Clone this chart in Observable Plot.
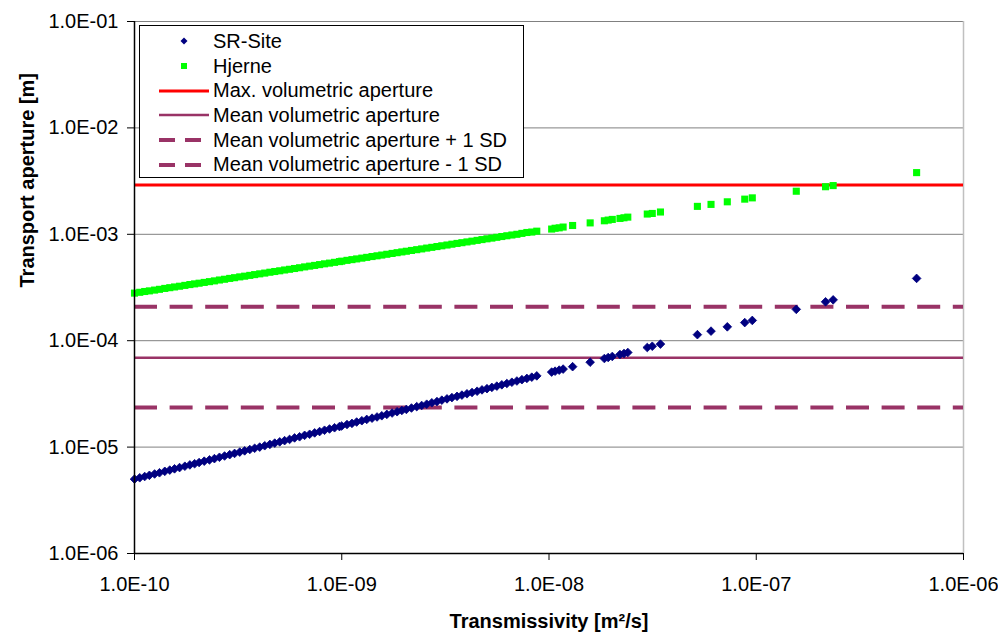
<!DOCTYPE html>
<html>
<head>
<meta charset="utf-8">
<script src="https://cdn.jsdelivr.net/npm/d3@7"></script>
<script src="https://cdn.jsdelivr.net/npm/@observablehq/plot@0.6"></script>
<style>
  body { margin: 0; background: #fff; }
  #wrap { position: relative; width: 998px; height: 635px; font-family: "Liberation Sans", Arial, sans-serif; }
  #legend { position: absolute; left: 139px; top: 25px; width: 385px; height: 153px; border: 1px solid #000; background: #fff; box-sizing: border-box; padding-top: 3px; }
  .row { display: flex; align-items: center; height: 24.7px; font-size: 20px; color: #000; }
  .row svg { margin-left: 19px; margin-right: 4px; }
</style>
</head>
<body>
<div id="wrap"></div>
<script>
// Transmissivity values [m2/s] (shared by both series)
const transmissivity = [
  1.00e-10, 1.06e-10, 1.12e-10, 1.18e-10, 1.25e-10, 1.32e-10, 1.40e-10, 1.48e-10, 1.56e-10, 1.65e-10,
  1.75e-10, 1.85e-10, 1.95e-10, 2.05e-10, 2.17e-10, 2.30e-10, 2.43e-10, 2.57e-10, 2.72e-10, 2.88e-10,
  3.04e-10, 3.22e-10, 3.40e-10, 3.60e-10, 3.80e-10, 4.02e-10, 4.25e-10, 4.50e-10, 4.75e-10, 5.02e-10,
  5.30e-10, 5.60e-10, 5.92e-10, 6.26e-10, 6.62e-10, 7.00e-10, 7.40e-10, 7.82e-10, 8.26e-10, 8.73e-10,
  9.23e-10, 9.75e-10,
  1.00e-9, 1.06e-9, 1.12e-9, 1.18e-9, 1.25e-9, 1.32e-9, 1.40e-9, 1.48e-9, 1.56e-9, 1.65e-9,
  1.75e-9, 1.85e-9, 1.95e-9, 2.05e-9, 2.17e-9, 2.30e-9, 2.43e-9, 2.57e-9, 2.72e-9, 2.88e-9,
  3.04e-9, 3.22e-9, 3.40e-9, 3.60e-9, 3.80e-9, 4.02e-9, 4.25e-9, 4.50e-9, 4.75e-9, 5.02e-9,
  5.30e-9, 5.60e-9, 5.92e-9, 6.26e-9, 6.62e-9, 7.00e-9, 7.40e-9, 7.82e-9, 8.26e-9, 8.73e-9,
  1.03e-8, 1.07e-8, 1.12e-8, 1.17e-8, 1.30e-8, 1.58e-8, 1.85e-8, 1.93e-8, 2.02e-8, 2.20e-8,
  2.30e-8, 2.40e-8, 2.98e-8, 3.15e-8, 3.45e-8, 5.20e-8, 6.05e-8, 7.25e-8, 8.80e-8, 9.57e-8,
  1.56e-7, 2.16e-7, 2.35e-7, 5.94e-7
];

// Transport aperture [m], SR-Site
const srSite = [
  5.00e-6, 5.15e-6, 5.29e-6, 5.43e-6, 5.59e-6, 5.74e-6, 5.92e-6, 6.08e-6, 6.25e-6, 6.42e-6,
  6.61e-6, 6.80e-6, 6.98e-6, 7.16e-6, 7.37e-6, 7.58e-6, 7.79e-6, 8.02e-6, 8.25e-6, 8.49e-6,
  8.72e-6, 8.97e-6, 9.22e-6, 9.49e-6, 9.75e-6, 1.00e-5, 1.03e-5, 1.06e-5, 1.09e-5, 1.12e-5,
  1.15e-5, 1.18e-5, 1.22e-5, 1.25e-5, 1.29e-5, 1.32e-5, 1.36e-5, 1.40e-5, 1.44e-5, 1.48e-5,
  1.52e-5, 1.56e-5,
  1.58e-5, 1.63e-5, 1.67e-5, 1.72e-5, 1.77e-5, 1.82e-5, 1.87e-5, 1.92e-5, 1.97e-5, 2.03e-5,
  2.09e-5, 2.15e-5, 2.21e-5, 2.26e-5, 2.33e-5, 2.40e-5, 2.46e-5, 2.53e-5, 2.61e-5, 2.68e-5,
  2.76e-5, 2.84e-5, 2.92e-5, 3.00e-5, 3.08e-5, 3.17e-5, 3.26e-5, 3.35e-5, 3.45e-5, 3.54e-5,
  3.64e-5, 3.74e-5, 3.85e-5, 3.96e-5, 4.07e-5, 4.18e-5, 4.30e-5, 4.42e-5, 4.54e-5, 4.67e-5,
  5.07e-5, 5.17e-5, 5.29e-5, 5.41e-5, 5.70e-5, 6.28e-5, 6.80e-5, 6.95e-5, 7.11e-5, 7.42e-5,
  7.58e-5, 7.75e-5, 8.63e-5, 8.87e-5, 9.29e-5, 1.14e-4, 1.23e-4, 1.35e-4, 1.48e-4, 1.55e-4,
  1.97e-4, 2.32e-4, 2.42e-4, 3.85e-4
];

// Transport aperture [m], Hjerne
const hjerne = [
  2.80e-4, 2.85e-4, 2.90e-4, 2.94e-4, 2.99e-4, 3.04e-4, 3.10e-4, 3.15e-4, 3.20e-4, 3.25e-4,
  3.31e-4, 3.37e-4, 3.42e-4, 3.47e-4, 3.53e-4, 3.59e-4, 3.65e-4, 3.72e-4, 3.78e-4, 3.85e-4,
  3.91e-4, 3.98e-4, 4.04e-4, 4.11e-4, 4.18e-4, 4.25e-4, 4.32e-4, 4.40e-4, 4.47e-4, 4.54e-4,
  4.62e-4, 4.69e-4, 4.77e-4, 4.85e-4, 4.94e-4, 5.02e-4, 5.10e-4, 5.19e-4, 5.28e-4, 5.36e-4,
  5.45e-4, 5.54e-4,
  5.59e-4, 5.69e-4, 5.78e-4, 5.87e-4, 5.97e-4, 6.07e-4, 6.18e-4, 6.28e-4, 6.38e-4, 6.49e-4,
  6.61e-4, 6.72e-4, 6.83e-4, 6.93e-4, 7.05e-4, 7.17e-4, 7.29e-4, 7.42e-4, 7.54e-4, 7.67e-4,
  7.80e-4, 7.93e-4, 8.07e-4, 8.21e-4, 8.34e-4, 8.48e-4, 8.62e-4, 8.77e-4, 8.92e-4, 9.07e-4,
  9.21e-4, 9.37e-4, 9.53e-4, 9.69e-4, 9.85e-4, 1.00e-3, 1.02e-3, 1.04e-3, 1.05e-3, 1.07e-3,
  1.12e-3, 1.14e-3, 1.15e-3, 1.17e-3, 1.21e-3, 1.28e-3, 1.34e-3, 1.36e-3, 1.38e-3, 1.41e-3,
  1.43e-3, 1.45e-3, 1.55e-3, 1.57e-3, 1.62e-3, 1.83e-3, 1.91e-3, 2.02e-3, 2.14e-3, 2.20e-3,
  2.54e-3, 2.80e-3, 2.87e-3, 3.80e-3
];

// Reference apertures [m]
const maxVolumetricAperture = 2.9e-3;
const meanVolumetricAperture = 6.9e-5;
const meanPlus1SD = 2.08e-4;
const meanMinus1SD = 2.35e-5;

const xTicks = [1e-10, 1e-9, 1e-8, 1e-7, 1e-6];
const xTickLabels = ["1.0E-10", "1.0E-09", "1.0E-08", "1.0E-07", "1.0E-06"];
const yTicks = [1e-6, 1e-5, 1e-4, 1e-3, 1e-2, 1e-1];
const yTickLabels = ["1.0E-06", "1.0E-05", "1.0E-04", "1.0E-03", "1.0E-02", "1.0E-01"];

const seriesNames = ["SR-Site", "Hjerne"];
const lineNames = ["Max. volumetric aperture", "Mean volumetric aperture",
  "Mean volumetric aperture + 1 SD", "Mean volumetric aperture - 1 SD"];

const srData = transmissivity.map((t, i) => ({t, a: srSite[i]}));
const hjData = transmissivity.map((t, i) => ({t, a: hjerne[i]}));

const xLabelOf = d => xTickLabels[xTicks.findIndex(v => Math.abs(Math.log10(v) - Math.log10(d)) < 1e-6)];
const yLabelOf = d => yTickLabels[yTicks.findIndex(v => Math.abs(Math.log10(v) - Math.log10(d)) < 1e-6)];

const NAVY = "#000080", LIME = "#00ff00", RED = "#ff0000", PLUM = "#993366";
const DASH = "23,12.6";

const chart = Plot.plot({
  width: 998,
  height: 635,
  marginLeft: 134,
  marginRight: 35,
  marginTop: 21,
  marginBottom: 82,
  style: {fontFamily: "'Liberation Sans', Arial, sans-serif", fontSize: "20px", color: "#000", background: "#fff"},
  x: {type: "log", domain: [1e-10, 1e-6]},
  y: {type: "log", domain: [1e-6, 1e-1]},
  marks: [
    Plot.gridY(yTicks.slice(1), {stroke: "#808080", strokeOpacity: 1, strokeWidth: 1}),
    Plot.ruleX([1e-6], {stroke: "#c0c0c0", strokeWidth: 1.5}),
    Plot.ruleY([meanPlus1SD], {stroke: PLUM, strokeWidth: 4, strokeDasharray: DASH}),
    Plot.ruleY([meanMinus1SD], {stroke: PLUM, strokeWidth: 4, strokeDasharray: DASH}),
    Plot.ruleY([meanVolumetricAperture], {stroke: PLUM, strokeWidth: 2.5}),
    Plot.ruleY([maxVolumetricAperture], {stroke: RED, strokeWidth: 3}),
    Plot.dot(srData, {x: "t", y: "a", symbol: "diamond2", r: 3.9, fill: NAVY, stroke: NAVY, strokeWidth: 0.8}),
    Plot.dot(hjData, {x: "t", y: "a", symbol: "square", r: 4.0, fill: LIME, stroke: "none"}),
    Plot.ruleX([1e-10], {stroke: "#000", strokeWidth: 1.5}),
    Plot.ruleY([1e-6], {stroke: "#000", strokeWidth: 1.5}),
    Plot.axisX(xTicks, {tickFormat: xLabelOf, tickSize: 7, tickPadding: 16, fontSize: 20, stroke: "#000", fill: "#000", label: null}),
    Plot.axisY(yTicks, {tickFormat: yLabelOf, tickSize: 7, tickPadding: 9, fontSize: 20, stroke: "#000", fill: "#000", label: null}),
    Plot.text(["Transmissivity [m²/s]"], {frameAnchor: "bottom", dy: 74, fontWeight: "bold", fontSize: 20, fill: "#000"}),
    Plot.text(["Transport aperture [m]"], {frameAnchor: "left", dx: -107, rotate: -90, fontWeight: "bold", fontSize: 20, fill: "#000"})
  ]
});

const wrap = document.getElementById("wrap");
wrap.appendChild(chart);

// Legend overlay (inside the plot area, as in the reference)
const legend = document.createElement("div");
legend.id = "legend";
const items = [
  {name: seriesNames[0], kind: "diamond", color: NAVY},
  {name: seriesNames[1], kind: "square", color: LIME},
  {name: lineNames[0], kind: "line", color: RED, w: 3},
  {name: lineNames[1], kind: "line", color: PLUM, w: 2.5},
  {name: lineNames[2], kind: "dash", color: PLUM, w: 4},
  {name: lineNames[3], kind: "dash", color: PLUM, w: 4}
];
for (const it of items) {
  const row = document.createElement("div");
  row.className = "row";
  let sym = "";
  if (it.kind === "diamond") sym = `<path d="M25,8.5 L28.5,12 L25,15.5 L21.5,12 Z" fill="${it.color}"/>`;
  else if (it.kind === "square") sym = `<rect x="22" y="9" width="6" height="6" fill="${it.color}"/>`;
  else if (it.kind === "line") sym = `<line x1="0" x2="50" y1="12" y2="12" stroke="${it.color}" stroke-width="${it.w}"/>`;
  else sym = `<line x1="0" x2="50" y1="12" y2="12" stroke="${it.color}" stroke-width="${it.w}" stroke-dasharray="16,10"/>`;
  row.innerHTML = `<svg width="50" height="24">${sym}</svg><span>${it.name}</span>`;
  legend.appendChild(row);
}
wrap.appendChild(legend);
</script>
</body>
</html>
